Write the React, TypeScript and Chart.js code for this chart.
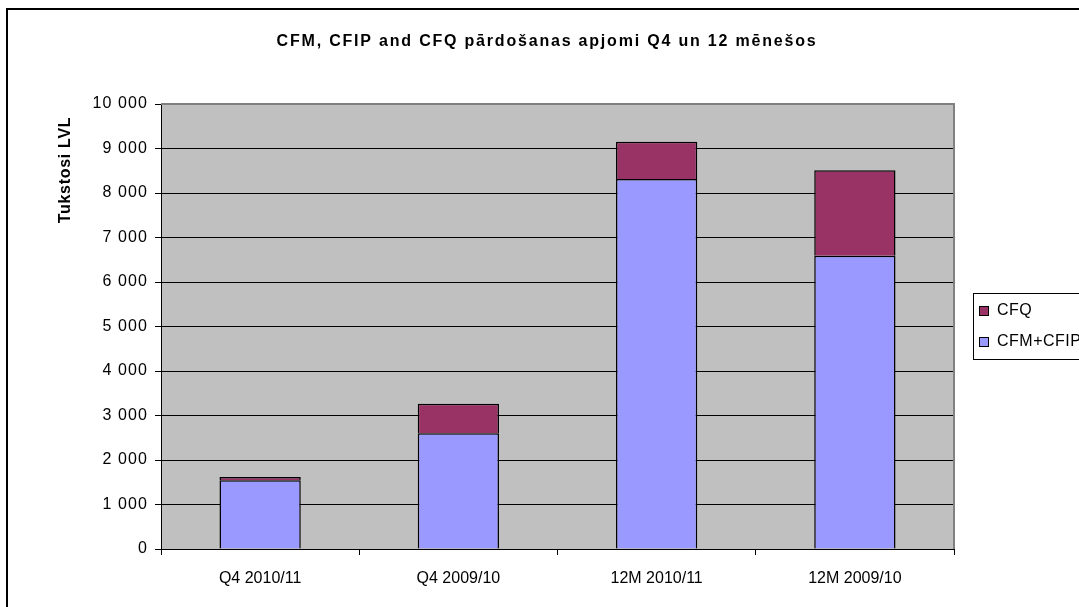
import React, { useEffect, useRef } from "react";
import { Chart, registerables } from "chart.js";

Chart.register(...registerables);

const categories = ["Q4 2010/11", "Q4 2009/10", "12M 2010/11", "12M 2009/10"];
const cfmCfip = [1545, 2600, 8315, 6590];
const cfq = [75, 665, 835, 1920];
const seriesNames = ["CFM+CFIP", "CFQ"];
const chartTitle = "CFM, CFIP and CFQ pārdošanas apjomi Q4 un 12 mēnešos";
const yAxisTitle = "Tukstosi LVL";

const FONT = "'Liberation Sans', Arial, sans-serif";

const fmt = (v: number) => {
  const s = String(Math.round(v));
  return s.replace(/\B(?=(\d{3})+(?!\d))/g, " ");
};

const decorPlugin = {
  id: "decor",
  beforeDraw(chart: any) {
    const { ctx, chartArea } = chart;
    ctx.save();
    ctx.fillStyle = "#ffffff";
    ctx.fillRect(0, 0, chart.width, chart.height);
    ctx.fillStyle = "#C0C0C0";
    ctx.fillRect(chartArea.left, chartArea.top, chartArea.right - chartArea.left, chartArea.bottom - chartArea.top);
    ctx.restore();
    // y tick labels are drawn a little wider, as in the reference
    ctx.letterSpacing = "1.1px";
  },
  beforeDatasetsDraw(chart: any) {
    chart.ctx.letterSpacing = "0px";
  },
  afterDraw(chart: any) {
    const { ctx, chartArea } = chart;
    ctx.save();
    ctx.letterSpacing = "0px";
    // plot border top/right
    ctx.strokeStyle = "#808080";
    ctx.lineWidth = 2;
    ctx.beginPath();
    ctx.moveTo(chartArea.left, chartArea.top);
    ctx.lineTo(chartArea.right, chartArea.top);
    ctx.lineTo(chartArea.right, chartArea.bottom);
    ctx.stroke();

    // outer frame
    ctx.strokeStyle = "#000";
    ctx.lineWidth = 2;
    ctx.beginPath();
    ctx.moveTo(7, chart.height + 2);
    ctx.lineTo(7, 9);
    ctx.lineTo(chart.width + 2, 9);
    ctx.stroke();

    // title
    ctx.fillStyle = "#000";
    ctx.font = `bold 16px ${FONT}`;
    ctx.letterSpacing = "1.8px";
    ctx.textAlign = "center";
    ctx.textBaseline = "middle";
    ctx.fillText(chartTitle, 547, 42);

    // y axis title
    ctx.save();
    ctx.translate(66, 170);
    ctx.rotate(-Math.PI / 2);
    ctx.font = `bold 16px ${FONT}`;
    ctx.letterSpacing = "0.7px";
    ctx.fillText(yAxisTitle, 0, 0);
    ctx.restore();

    // legend
    const lx = 973, ly = 293, lw = 130, lh = 66;
    ctx.strokeStyle = "#000";
    ctx.lineWidth = 1;
    ctx.fillStyle = "#fff";
    ctx.fillRect(lx, ly, lw, lh);
    ctx.strokeRect(lx + 0.5, ly + 0.5, lw, lh);
    const ds = chart.data.datasets;
    const order = [1, 0];
    const rows = [311, 342];
    ctx.font = `16px ${FONT}`;
    ctx.letterSpacing = "0.5px";
    ctx.textAlign = "left";
    order.forEach((di, i) => {
      const y = rows[i];
      ctx.fillStyle = ds[di].backgroundColor;
      ctx.fillRect(979.5, y - 4.5, 9, 9);
      ctx.strokeRect(979.5, y - 4.5, 9, 9);
      ctx.fillStyle = "#000";
      ctx.fillText(ds[di].label, 997, y);
    });
    ctx.restore();
  },
};

export default function App() {
  const ref = useRef<HTMLCanvasElement>(null);
  useEffect(() => {
    document.body.style.margin = "0";
    const chart = new Chart(ref.current!, {
      type: "bar",
      data: {
        labels: categories,
        datasets: [
          {
            label: seriesNames[0],
            data: cfmCfip,
            backgroundColor: "#9999FF",
            borderColor: "#000",
            borderWidth: 1.5,
            barPercentage: 0.41,
            categoryPercentage: 1,
          },
          {
            label: seriesNames[1],
            data: cfq,
            backgroundColor: "#993366",
            borderColor: "#000",
            borderWidth: 1.5,
            barPercentage: 0.41,
            categoryPercentage: 1,
          },
        ],
      },
      options: {
        responsive: false,
        animation: false,
        devicePixelRatio: 1,
        layout: { padding: { left: 0, right: 125, top: 104, bottom: 0 } },
        plugins: {
          legend: { display: false },
          title: { display: false },
          tooltip: { enabled: false },
        },
        scales: {
          x: {
            stacked: true,
            afterFit: (s: any) => {
              s.height = 58;
            },
            grid: {
              offset: true,
              drawOnChartArea: false,
              drawTicks: true,
              tickLength: 6,
              color: "#000",
              z: 1,
            },
            border: { display: true, color: "#000", width: 1, z: 1 },
            ticks: {
              color: "#000",
              font: { family: FONT, size: 16 },
              padding: 14,
              maxRotation: 0,
              autoSkip: false,
              z: 1,
            },
          },
          y: {
            stacked: true,
            min: 0,
            max: 10000,
            afterFit: (s: any) => {
              s.width = 161;
            },
            grid: { color: "#000", tickLength: 6, lineWidth: 1 },
            border: { display: true, color: "#000", width: 1 },
            ticks: {
              stepSize: 1000,
              color: "#000",
              font: { family: FONT, size: 16 },
              padding: 7,
              callback: (v: any) => fmt(Number(v)),
            },
          },
        },
      },
      plugins: [decorPlugin],
    });
    return () => chart.destroy();
  }, []);
  return (
    <div style={{ position: "absolute", left: 0, top: 0, width: 1079, height: 607 }}>
      <canvas ref={ref} width={1079} height={607} style={{ display: "block" }} />
    </div>
  );
}
